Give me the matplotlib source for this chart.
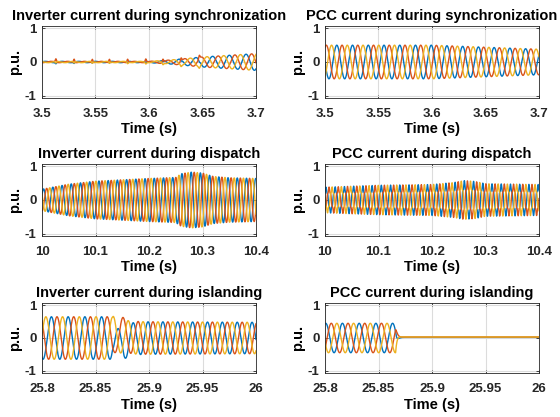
import numpy as np
import matplotlib.pyplot as plt

plt.rcParams['font.family'] = ['Liberation Sans', 'DejaVu Sans']
plt.rcParams['font.weight'] = 'bold'
plt.rcParams['axes.titleweight'] = 'bold'
plt.rcParams['axes.labelweight'] = 'bold'

colors = ['#0072BD', '#D95319', '#EDB120']   # phase a, b, c

titles = ['Inverter current during synchronization', 'PCC current during synchronization',
          'Inverter current during dispatch', 'PCC current during dispatch',
          'Inverter current during islanding', 'PCC current during islanding']
xlims = [(3.5, 3.7), (3.5, 3.7), (10.0, 10.4), (10.0, 10.4), (25.8, 26.0), (25.8, 26.0)]
xticks = [[3.5, 3.55, 3.6, 3.65, 3.7], [3.5, 3.55, 3.6, 3.65, 3.7],
          [10, 10.1, 10.2, 10.3, 10.4], [10, 10.1, 10.2, 10.3, 10.4],
          [25.8, 25.85, 25.9, 25.95, 26], [25.8, 25.85, 25.9, 25.95, 26]]
xticklabels = [['3.5', '3.55', '3.6', '3.65', '3.7'], ['3.5', '3.55', '3.6', '3.65', '3.7'],
               ['10', '10.1', '10.2', '10.3', '10.4'], ['10', '10.1', '10.2', '10.3', '10.4'],
               ['25.8', '25.85', '25.9', '25.95', '26'], ['25.8', '25.85', '25.9', '25.95', '26']]

# --- envelopes (time knots, peak amplitude in p.u.) ---
inv_sync_t   = [3.5, 3.6, 3.62, 3.65, 3.7]
inv_sync_amp = [0.02, 0.02, 0.06, 0.15, 0.25]
inv_sync_f   = 64
inv_sync_spikes = [3.513, 3.530, 3.547, 3.563, 3.580, 3.597, 3.613, 3.630, 3.647]
inv_sync_spike_h = [0.10, -0.05, -0.04]   # orange up, yellow/blue dip

pcc_sync_t   = [3.5, 3.55, 3.6, 3.65, 3.7]
pcc_sync_amp = [0.5, 0.5, 0.5, 0.44, 0.38]
pcc_sync_f   = 68

inv_disp_t   = [10.0, 10.05, 10.1, 10.2, 10.25, 10.26, 10.28, 10.3, 10.32, 10.35, 10.4]
inv_disp_amp = [0.32, 0.47, 0.56, 0.64, 0.67, 0.78, 0.83, 0.8, 0.7, 0.66, 0.64]
inv_disp_f   = 58

pcc_disp_t   = [10.0, 10.1, 10.2, 10.24, 10.26, 10.28, 10.3, 10.4]
pcc_disp_amp = [0.33, 0.38, 0.4, 0.45, 0.5, 0.48, 0.42, 0.4]
pcc_disp_f   = 58
pcc_disp_h5  = 0.06

island_t0 = 25.866
inv_isl_t   = [25.8, 25.865, 25.878, 26.0]
inv_isl_amp = [0.65, 0.65, 0.5, 0.48]
inv_isl_f   = [64, 64, 72, 72]
inv_isl_dc  = [-0.3, 0.18, 0.12]      # offset per phase right after islanding

pcc_isl_t   = [25.8, 25.866, 26.0]
pcc_isl_amp = [0.45, 0.45, 0.45]
pcc_isl_res = [0.02, 0.03, 0.03]      # residual level per phase after islanding


def three_phase(t, kt, ka, f, th0):
    amp = np.interp(t, kt, ka)
    if np.ndim(f):
        fr = np.interp(t, f[0], f[1])
        th = th0 + 2 * np.pi * np.concatenate([[0], np.cumsum(fr[1:] * np.diff(t))])
    else:
        th = th0 + 2 * np.pi * f * (t - t[0])
    return [amp * np.sin(th + k * 2 * np.pi / 3) for k in (0, -1, 1)], th


data = []

# inverter sync
t = np.linspace(3.5, 3.7, 4000)
ph, th = three_phase(t, inv_sync_t, inv_sync_amp, inv_sync_f, 0.3)
for ts in inv_sync_spikes:
    pulse = np.exp(-((t - ts) / 0.0008) ** 2)
    for k, idx in enumerate([1, 2, 0]):
        ph[idx] = ph[idx] + inv_sync_spike_h[k] * pulse
data.append((t, ph))

# pcc sync
t = np.linspace(3.5, 3.7, 3000)
ph, th = three_phase(t, pcc_sync_t, pcc_sync_amp, pcc_sync_f, np.pi)
data.append((t, ph))

# inverter dispatch
t = np.linspace(10.0, 10.4, 5000)
ph, th = three_phase(t, inv_disp_t, inv_disp_amp, inv_disp_f, 0.5)
data.append((t, ph))

# pcc dispatch
t = np.linspace(10.0, 10.4, 5000)
ph, th = three_phase(t, pcc_disp_t, pcc_disp_amp, pcc_disp_f, 0.9)
amp = np.interp(t, pcc_disp_t, pcc_disp_amp)
ph = [p + pcc_disp_h5 * amp / 0.4 * np.sin(5 * (th + k * 2 * np.pi / 3))
      for p, k in zip(ph, (0, -1, 1))]
data.append((t, ph))

# inverter islanding
t = np.linspace(25.8, 26.0, 4000)
ph, th = three_phase(t, inv_isl_t, inv_isl_amp, (inv_isl_t, inv_isl_f), -np.pi / 2 - 0.4)
dt = np.clip(t - island_t0, 0, None) / 0.004
bump = dt * np.exp(1 - dt)
ph = [p + dc * bump for p, dc in zip(ph, inv_isl_dc)]
data.append((t, ph))

# pcc islanding
t = np.linspace(25.8, 26.0, 4000)
ph, th = three_phase(t, pcc_isl_t, pcc_isl_amp, inv_isl_f[0], 1.3)
fade = np.where(t > island_t0, np.exp(-(t - island_t0) / 0.0012), 1.0)
ph = [r + (p - r) * fade for p, r in zip(ph, pcc_isl_res)]
data.append((t, ph))

fig = plt.figure(figsize=(5.6, 4.17), dpi=100)
W, H = 560, 417
lefts = [42, 325]
rows = [(26, 98), (164, 236), (303, 373)]

for i in range(6):
    r, c = divmod(i, 2)
    x0 = lefts[c]
    top, bot = rows[r]
    ax = fig.add_axes([x0 / W, 1 - bot / H, 214 / W, (bot - top) / H])
    t, ph = data[i]
    for k in range(3):
        ax.plot(t, ph[k], color=colors[k], lw=1.0)
    ax.set_xlim(*xlims[i])
    ax.set_ylim(-1.07, 1.07)
    ax.set_xticks(xticks[i])
    ax.set_xticklabels(xticklabels[i])
    ax.set_yticks([-1, 0, 1])
    ax.set_yticklabels(['-1', '0', '1'])
    ax.grid(True, color='#dcdcdc', lw=0.8)
    ax.set_axisbelow(True)
    ax.tick_params(direction='in', top=True, right=True, length=2.5, width=0.6,
                   labelsize=9.5, colors='#262626')
    ax.tick_params(axis='x', pad=7)
    ax.tick_params(axis='y', pad=4)
    for s in ax.spines.values():
        s.set_color('#262626')
        s.set_linewidth(0.6)
    ax.set_title(titles[i], fontsize=10.5, pad=4)
    ax.set_xlabel('Time (s)', fontsize=10.5, labelpad=2)
    ax.set_ylabel('p.u.', fontsize=10.5, labelpad=2)

fig.savefig('out.png', dpi=100)
